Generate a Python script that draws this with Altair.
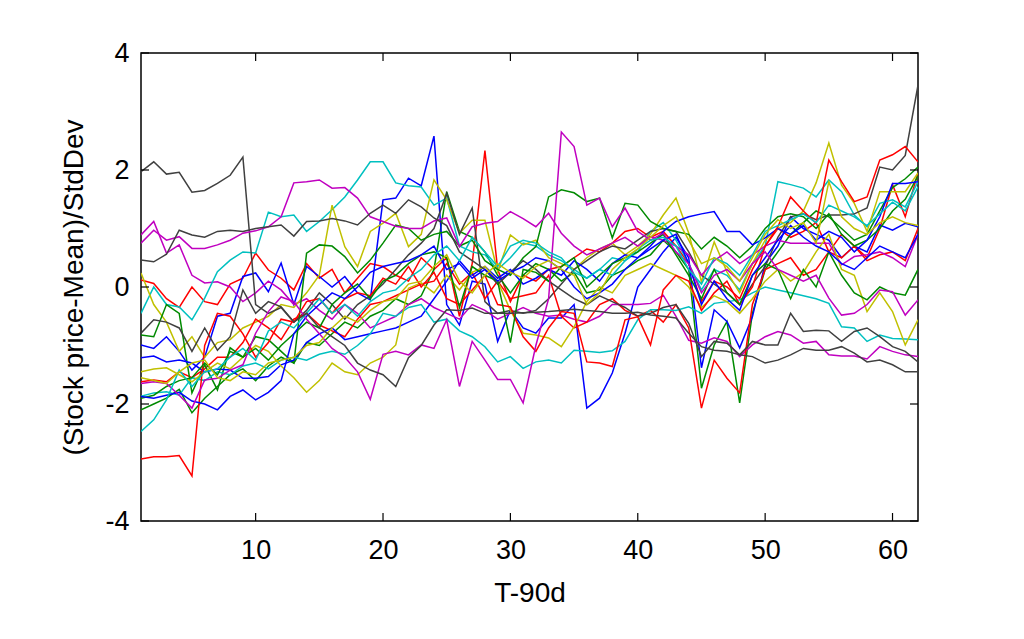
import altair as alt
import pandas as pd

# x positions (T-90d)
days = list(range(1, 63))
xticks = [10, 20, 30, 40, 50, 60]
yticks = [-4, -2, 0, 2, 4]

red1 = [0.12,0.06,-0.20,-0.35,0.00,-0.25,-0.30,0.05,0.15,0.58,
        0.29,0.15,-0.05,0.40,0.15,0.30,-0.10,0.15,0.40,0.35,
        0.20,0.10,0.50,0.30,0.50,-0.50,0.40,2.33,0.30,-0.25,
        0.20,0.10,0.30,0.35,0.50,0.65,0.60,0.75,0.95,1.00,
        0.85,0.95,0.70,0.40,-0.25,0.10,0.00,-0.20,0.30,0.70,
        1.00,0.85,0.95,1.10,0.60,0.90,0.70,0.50,1.00,1.75,
        1.20,1.95]
green1 = [-2.10,-2.00,-1.90,-1.75,-2.15,-1.90,-1.70,-1.50,-1.40,-1.60,
          -1.35,-1.20,-1.30,-0.95,-1.00,-0.80,-0.60,-0.70,-0.50,-0.40,
          -0.20,-0.30,-0.15,0.30,1.63,0.95,0.85,0.60,0.20,-0.10,
          0.20,0.40,0.30,0.10,0.25,-0.10,-0.05,0.20,0.30,0.45,
          0.55,0.80,0.60,0.30,-1.73,-0.99,-0.59,-1.98,-0.45,0.30,
          0.60,0.90,1.10,1.30,1.20,1.00,0.80,0.90,1.30,1.70,
          1.85,2.05]
blue1 = [-0.99,-1.05,-0.85,-1.10,-1.42,-1.20,-0.50,-0.45,0.18,0.24,
         -0.08,0.41,-0.30,0.35,0.18,0.00,0.18,-0.10,-0.22,1.49,
         1.52,1.86,1.73,2.58,-0.30,-0.65,0.10,0.05,-0.93,-0.39,
         -0.70,-0.79,-0.53,-0.53,-0.30,-2.07,-1.90,-1.47,-0.79,0.00,
         0.30,0.60,0.85,0.50,-1.38,-0.39,-0.59,-1.04,-0.51,0.40,
         0.70,1.20,1.00,0.90,0.80,0.50,0.70,0.60,1.06,0.97,
         1.09,1.03]
magenta1 = [0.89,1.12,0.58,0.72,0.20,0.07,0.09,0.00,-0.25,-0.10,
            0.10,-0.05,-0.30,-0.20,-0.40,-0.55,-0.30,-0.45,-0.70,-0.60,
            -0.50,-0.30,-0.20,-0.35,-0.45,-0.55,-0.30,-0.40,-0.55,-0.45,
            -0.35,-0.45,-0.50,-0.48,-0.55,-0.60,-0.50,-0.30,-0.30,-0.30,
            -0.28,-0.14,-0.50,-0.91,-0.96,-0.87,-0.93,-1.19,-0.99,-0.85,
            -0.76,-0.82,-0.96,-0.93,-1.16,-1.18,-1.18,-1.23,-1.02,-1.10,
            -1.16,-1.19]
cyan1 = [-0.45,0.00,-0.30,-0.34,-0.56,-0.19,0.26,0.46,0.60,0.58,
         1.28,1.20,1.23,0.95,1.12,1.32,1.54,1.83,2.14,2.14,
         1.78,1.73,1.71,1.40,1.52,0.70,0.60,0.55,0.30,0.50,
         0.75,0.70,0.55,0.45,0.30,0.15,0.30,0.50,0.45,0.60,
         0.95,1.10,0.80,0.40,-0.05,0.30,0.20,-0.05,0.40,0.70,
         1.80,1.75,1.69,1.54,1.83,1.63,1.23,1.03,1.43,1.49,
         1.37,1.80]
olive1 = [0.24,-0.30,-0.60,-1.10,-0.85,-1.20,-0.95,-0.90,-0.70,-0.60,
          -0.50,-0.30,-0.35,-0.10,0.20,1.40,0.69,0.35,0.95,1.09,
          1.26,0.69,0.90,1.83,1.49,0.92,1.14,1.14,0.26,0.89,
          0.72,0.80,0.50,0.40,0.30,0.50,0.65,0.75,0.55,0.70,
          0.90,1.23,1.52,0.92,0.09,0.77,0.26,-0.10,0.40,0.80,
          1.00,1.10,1.30,1.78,2.46,1.74,1.43,0.95,1.63,1.63,
          1.63,1.95]
gray1 = [1.97,2.14,1.93,1.96,1.62,1.65,1.77,1.91,2.22,-0.30,
         -0.45,-0.35,-0.60,-0.40,-0.10,-0.30,-0.55,-0.30,-0.15,0.05,
         0.30,0.55,0.75,1.00,1.60,0.90,1.35,-0.25,-0.45,-0.40,
         -0.45,-0.40,-0.20,0.05,0.30,0.45,0.60,0.70,0.65,0.80,
         0.95,1.00,0.95,0.60,0.20,0.05,-0.10,-0.30,0.05,0.35,
         0.85,1.20,1.25,1.15,1.23,1.23,1.25,1.35,2.05,2.00,
         2.25,3.45]

red2 = [-1.62,-1.59,-1.62,-1.45,-1.55,-1.40,-1.20,-1.20,-0.95,-0.55,
        -0.70,-0.90,-0.55,-0.45,-0.65,-0.75,-0.85,-0.55,-0.30,-0.25,
        -0.15,-0.05,0.05,0.10,0.40,0.05,0.25,-0.20,0.10,-0.20,
        -0.15,-0.10,0.20,-0.50,-0.70,-0.60,-0.30,-0.20,-0.40,-0.50,
        -0.40,-0.60,-0.30,-0.70,-2.07,-1.25,-1.56,-1.81,-0.30,0.30,
        0.40,0.50,0.20,0.30,0.60,0.50,0.70,0.45,0.55,0.60,
        0.45,1.00]
green2 = [-0.82,-0.85,-0.30,-0.45,-1.81,-1.33,-1.76,-1.04,-1.20,-0.85,
          -0.90,-1.10,-1.30,0.58,0.72,0.70,0.52,0.24,0.46,0.75,
          1.06,1.00,0.80,0.90,0.95,0.70,0.80,0.45,0.30,0.20,
          0.50,0.69,1.54,1.66,1.61,1.46,1.52,0.84,1.43,1.40,
          1.12,1.00,0.95,0.90,0.65,0.85,0.70,0.50,0.70,1.00,
          1.20,1.25,1.20,1.00,1.25,0.90,0.70,0.80,1.00,1.30,
          1.50,1.90]
blue2 = [-1.21,-1.18,-1.28,-1.25,-1.30,-1.45,-1.40,-1.42,-1.56,-1.56,
         -1.53,-1.33,-1.25,-0.95,-0.80,-0.70,-0.90,-0.85,-0.80,-0.75,
         -0.70,-0.60,-0.50,-0.20,0.10,0.45,0.20,0.35,0.15,0.30,
         0.05,0.15,0.30,0.20,0.45,0.30,0.10,0.40,0.55,0.50,
         0.70,0.95,1.12,1.20,1.25,1.29,0.95,0.95,0.72,0.84,
         1.00,0.90,1.05,0.80,0.95,0.85,0.60,0.80,1.20,1.77,
         1.77,1.80]
magenta2 = [0.75,0.97,0.80,0.86,0.66,0.66,0.72,0.80,0.92,0.96,
            1.03,1.20,1.78,1.80,1.83,1.69,1.70,1.52,1.20,1.12,
            1.04,1.00,1.00,1.13,1.18,0.69,1.03,1.09,1.12,1.29,
            1.17,1.03,1.26,0.92,0.70,0.55,0.65,0.75,0.85,0.70,
            0.86,0.80,0.70,0.55,0.20,0.45,0.60,0.40,0.55,0.70,
            0.80,0.75,0.75,0.75,0.75,0.38,0.52,0.55,0.60,0.50,
            0.35,0.90]
cyan2 = [-1.87,-1.81,-1.79,-1.85,-1.55,-1.60,-1.45,-1.50,-1.35,-1.30,
         -1.40,-1.25,-1.20,-1.25,-1.15,-1.10,-1.15,-1.00,-0.80,-0.45,
         -0.50,-0.35,-0.30,-0.60,-0.55,-0.75,-0.85,-1.02,-1.28,-1.19,
         -1.39,-1.28,-1.25,-1.30,-1.08,-1.10,-1.12,-1.09,-0.93,-0.56,
         -0.39,-0.39,-0.40,-0.34,-0.45,-0.28,-0.25,-0.22,-0.10,0.00,
         -0.05,-0.10,-0.15,-0.20,-0.28,-0.68,-0.70,-0.93,-0.82,-0.88,
         -0.89,-0.90]
olive2 = [-1.45,-1.40,-1.38,-1.50,-1.62,-1.45,-1.30,-1.40,-1.20,-1.00,
          -1.10,-1.35,-1.55,-1.80,-1.60,-1.30,-1.45,-1.50,-1.30,-1.20,
          -0.99,-0.02,0.07,-0.10,0.20,-0.05,0.25,0.35,0.10,-0.40,
          -0.79,-0.82,-0.87,-1.02,-0.68,-0.25,0.00,-0.10,0.20,0.30,
          0.40,0.30,0.20,0.00,-0.35,-0.15,-0.25,-0.45,-0.20,0.10,
          0.30,0.10,0.25,0.60,0.90,0.30,0.20,-0.42,-0.10,-0.42,
          -0.99,-0.56]
gray2 = [0.46,0.43,0.56,0.97,0.89,0.85,0.95,0.97,0.95,1.00,
         1.03,1.06,0.87,1.12,1.13,1.17,1.13,1.06,1.26,1.40,
         1.26,1.49,1.37,1.18,1.05,0.60,0.45,0.30,0.05,0.25,
         0.45,0.30,0.10,-0.05,-0.20,-0.30,-0.15,-0.25,-0.35,-0.50,
         -0.45,-0.35,-0.30,-0.62,-1.19,-0.93,-0.96,-1.16,-0.93,-0.99,
         -0.99,-0.45,-0.76,-0.74,-0.75,-0.93,-0.76,-0.70,-0.85,-1.02,
         -1.10,-1.28]

red3 = [-2.94,-2.90,-2.90,-2.88,-3.23,-1.00,-0.45,-0.50,-0.80,-1.20,
        -0.95,-0.55,-0.60,-0.25,-0.20,-0.45,-0.20,-0.10,-0.15,0.15,
        0.05,0.35,0.00,0.25,-0.20,-0.30,-0.05,0.20,-0.30,-0.34,
        -0.85,-1.10,-0.70,-0.42,-0.45,-1.28,-1.30,-1.36,-0.56,-0.51,
        -0.99,-0.05,0.20,0.10,-0.40,-0.10,0.10,-0.30,0.00,0.70,
        1.03,1.54,1.30,1.09,2.17,1.80,1.46,1.54,2.17,2.26,
        2.40,2.14]
green3 = [-1.90,-1.85,-1.70,-1.60,-1.55,-1.30,-1.50,-1.10,-1.20,-1.05,
          -1.25,-1.00,-0.80,-0.60,-0.70,-0.30,-0.10,0.05,-0.20,0.10,
          0.20,0.40,0.55,0.60,0.50,-0.35,0.35,0.20,0.10,-0.95,
          0.30,0.25,0.10,0.35,0.50,0.00,0.20,0.40,0.50,0.60,
          0.75,0.90,0.55,0.20,-0.20,0.30,-0.10,-0.30,0.20,0.40,
          0.30,-0.20,0.30,0.00,0.60,0.20,-0.10,-0.22,0.00,-0.10,
          -0.14,0.30]
blue3 = [-1.87,-1.90,-1.85,-1.80,-1.95,-2.00,-2.10,-1.87,-1.76,-1.93,
         -1.80,-1.60,-0.80,-0.50,-0.30,-0.10,-0.20,0.00,0.25,0.35,
         0.40,0.45,0.55,0.70,0.30,0.40,0.15,0.30,0.10,0.25,
         0.35,0.50,0.45,0.30,0.00,-0.20,-0.10,0.05,0.30,0.50,
         0.65,0.80,0.90,0.40,-0.30,0.10,-0.20,-0.40,0.20,0.50,
         0.80,1.05,0.85,0.70,0.60,0.40,0.30,0.50,0.70,0.60,
         0.50,0.90]
magenta3 = [-1.65,-1.62,-1.65,-1.85,-2.07,-1.59,-1.56,-1.42,-1.33,-0.79,
            -0.42,-0.17,-0.25,-0.55,-0.80,-1.05,-1.20,-1.45,-1.92,-1.15,
            -1.10,-1.16,-0.99,-1.05,-0.56,-1.70,-0.93,-1.25,-1.58,-1.58,
            -1.98,-1.00,-0.20,2.65,2.40,1.40,1.52,1.03,1.35,0.95,
            0.80,0.92,0.60,0.40,-0.10,0.20,0.30,0.10,0.40,0.60,
            0.30,0.20,0.10,0.20,-0.19,-0.48,-0.45,-0.30,-0.05,-0.08,
            -0.48,-0.22]
cyan3 = [-2.47,-2.27,-1.93,-1.42,-1.70,-1.45,-1.40,-1.20,-1.05,-1.25,
         -0.75,-0.60,-0.70,-0.45,-0.20,-0.45,-0.30,-0.50,-0.25,-0.10,
         -0.05,0.15,0.30,0.55,0.70,0.45,0.85,0.60,0.35,0.70,
         0.80,0.75,0.60,0.50,0.25,0.15,0.30,0.20,0.45,0.65,
         0.80,0.85,0.70,0.30,0.05,0.50,0.40,0.20,0.55,0.95,
         1.05,1.15,1.25,1.10,1.40,1.30,1.20,1.05,1.25,1.45,
         1.30,1.71]
olive3 = [-1.55,-1.60,-1.65,-1.45,-1.30,-1.25,-1.55,-1.60,-1.45,-1.50,
          -1.30,-1.25,-1.20,-1.00,-0.95,-0.70,-0.50,-0.60,-0.40,-0.25,
          -0.20,0.05,0.10,0.35,0.55,0.10,-0.10,0.20,0.40,0.25,
          0.15,0.35,0.45,0.30,0.20,-0.30,-0.10,0.30,0.50,0.65,
          0.85,1.05,1.20,0.80,0.40,0.50,0.35,0.10,0.50,0.90,
          1.15,1.00,1.10,0.75,1.80,1.20,1.00,0.90,1.10,1.20,
          1.10,1.05]
gray3 = [-0.79,-0.56,-0.60,-0.70,-1.10,-0.70,-1.08,-0.85,-0.05,-0.45,
         -0.25,-0.34,-0.60,-0.45,-0.70,-0.85,-1.00,-1.30,-1.42,-1.50,
         -1.70,-1.21,-1.00,-0.65,-0.39,-0.40,-0.36,-0.45,-0.45,-0.45,
         -0.44,-0.43,-0.42,-0.40,-0.38,-0.40,-0.42,-0.45,-0.45,-0.43,
         -0.48,-0.50,-0.53,-0.79,-1.02,-1.08,-1.10,-1.16,-1.19,-1.30,
         -1.25,-1.16,-1.05,-1.08,-1.08,-1.02,-1.13,-1.28,-1.25,-1.33,
         -1.45,-1.45]

series = [
    ("s01", red1), ("s02", green1), ("s03", blue1), ("s04", magenta1),
    ("s05", cyan1), ("s06", olive1), ("s07", gray1),
    ("s08", red2), ("s09", green2), ("s10", blue2), ("s11", magenta2),
    ("s12", cyan2), ("s13", olive2), ("s14", gray2),
    ("s15", red3), ("s16", green3), ("s17", blue3), ("s18", magenta3),
    ("s19", cyan3), ("s20", olive3), ("s21", gray3),
]
palette = ["#ff0000", "#008a00", "#0000ff", "#c000c0", "#00c0c0", "#c0c000", "#404040"]
colors = [palette[i % 7] for i in range(len(series))]
names = [n for n, _ in series]

rows = []
for name, vals in series:
    assert len(vals) == len(days), (name, len(vals))
    for d, v in zip(days, vals):
        rows.append({"day": d, "value": v, "series": name})
df = pd.DataFrame(rows)

W, H = 777, 468
FONT = "Liberation Sans"
LFS = 27
TFS = 28
xscale = alt.Scale(domain=[1, 62], nice=False, zero=False)
yscale = alt.Scale(domain=[-4, 4], nice=False, zero=False)

xaxis = alt.Axis(values=xticks, ticks=False, domain=False, grid=False,
                 labelExpr="'' + datum.value",
                 labelFont=FONT, labelFontSize=LFS, labelColor="black",
                 labelPadding=16, titleFont=FONT, titleFontSize=TFS,
                 titleFontWeight="normal", titleColor="black", titlePadding=16)
yaxis = alt.Axis(values=yticks, ticks=False, domain=False, grid=False,
                 labelExpr="'' + datum.value",
                 labelFont=FONT, labelFontSize=LFS, labelColor="black",
                 labelPadding=12, titleFont=FONT, titleFontSize=TFS,
                 titleFontWeight="normal", titleColor="black", titlePadding=16)
xenc = alt.X("day:Q", scale=xscale, title="T-90d", axis=xaxis)
yenc = alt.Y("value:Q", scale=yscale, title="(Stock price-Mean)/StdDev", axis=yaxis)

lines = alt.Chart(df).mark_line(strokeWidth=1.5, clip=True).encode(
    x=xenc, y=yenc,
    color=alt.Color("series:N", scale=alt.Scale(domain=names, range=colors), legend=None),
)

ydf = pd.DataFrame({"value": yticks})
xdf = pd.DataFrame({"day": xticks})
TL = 8
ytick_l = alt.Chart(ydf).mark_rule(color="black", strokeWidth=1.2).encode(
    y=yenc, x=alt.value(0), x2=alt.value(TL))
ytick_r = alt.Chart(ydf).mark_rule(color="black", strokeWidth=1.2).encode(
    y=yenc, x=alt.value(W - TL), x2=alt.value(W))
xtick_b = alt.Chart(xdf).mark_rule(color="black", strokeWidth=1.2).encode(
    x=xenc, y=alt.value(H - TL), y2=alt.value(H))
xtick_t = alt.Chart(xdf).mark_rule(color="black", strokeWidth=1.2).encode(
    x=xenc, y=alt.value(0), y2=alt.value(TL))

chart = alt.layer(lines, ytick_l, ytick_r, xtick_b, xtick_t).properties(
    width=W, height=H,
    autosize=alt.AutoSizeParams(type="none"),
    padding={"left": 133, "top": 45, "right": 10, "bottom": 105},
    background="white",
).configure_view(stroke="black", strokeWidth=1.5)

chart.save("out.html", embed_options={"renderer": "svg", "actions": False})
